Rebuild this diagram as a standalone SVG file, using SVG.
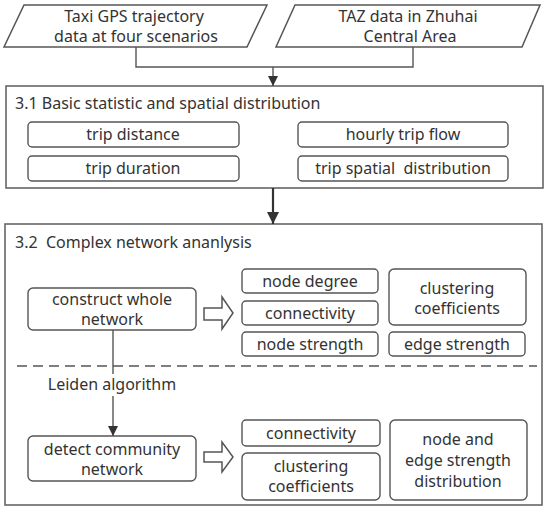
<svg xmlns="http://www.w3.org/2000/svg" width="550" height="510" viewBox="0 0 550 510">
<style>
.shape{fill:#fff;stroke:#555;stroke-width:1.5}
.box{fill:#fff;stroke:#555;stroke-width:1.4}
.frame{fill:none;stroke:#666;stroke-width:1.6}
.t{font-family:"Noto Sans","Open Sans","DejaVu Sans",sans-serif;font-size:16px;fill:#333;text-anchor:middle}
.h{font-family:"Noto Sans","Open Sans","DejaVu Sans",sans-serif;font-size:16px;fill:#333}
.line{fill:none;stroke:#555;stroke-width:1.4}
</style>
<defs>
<marker id="ah" markerWidth="10" markerHeight="14" refX="10" refY="5" orient="auto" markerUnits="userSpaceOnUse" viewBox="0 0 10 10">
<path d="M0,0 L10,5 L0,10 Z" fill="#333"/>
</marker>
<marker id="ah2" markerWidth="14" markerHeight="12" refX="10" refY="5" orient="auto" markerUnits="userSpaceOnUse" viewBox="0 0 10 10">
<path d="M0,0 L10,5 L0,10 Z" fill="#333"/>
</marker>
</defs>
<rect width="550" height="510" fill="#fff"/>

<g id="input-taxi">
<polygon class="shape" points="24,5 267,5 247,47 4,47"/>
<text class="t" x="134" y="22">Taxi GPS trajectory</text>
<text class="t" x="136" y="42">data at four scenarios</text>
</g>
<g id="input-taz">
<polygon class="shape" points="295,5 540,5 522,47 276,47"/>
<text class="t" x="408" y="22">TAZ data in Zhuhai</text>
<text class="t" x="410" y="42">Central Area</text>
</g>

<g id="section-31">
<rect class="frame" x="6" y="86" width="537" height="102"/>
<text class="h" x="15" y="109">3.1 Basic statistic and spatial distribution</text>
</g>
<g id="trip-distance"><rect class="box" x="28" y="122" width="211" height="25" rx="4"/><text class="t" x="133" y="140">trip distance</text></g>
<g id="trip-duration"><rect class="box" x="28" y="156" width="211" height="25" rx="4"/><text class="t" x="133" y="174">trip duration</text></g>
<g id="hourly-trip-flow"><rect class="box" x="298" y="122" width="210" height="25" rx="4"/><text class="t" x="403" y="140">hourly trip flow</text></g>
<g id="trip-spatial"><rect class="box" x="298" y="156" width="210" height="25" rx="4"/><text class="t" x="403" y="174" xml:space="preserve">trip spatial  distribution</text></g>

<g id="section-32">
<rect class="frame" x="5" y="224" width="537" height="281"/>
<text class="h" x="15" y="248" xml:space="preserve">3.2  Complex network ananlysis</text>
<line x1="17" y1="366" x2="537" y2="366" stroke="#555" stroke-width="1.4" stroke-dasharray="10,6"/>
</g>

<g id="construct-whole"><rect class="box" x="28" y="288" width="168" height="42" rx="5"/><text class="t" x="112" y="305">construct whole</text><text class="t" x="112" y="325">network</text></g>
<g id="node-degree"><rect class="box" x="242" y="269" width="136" height="24" rx="4"/><text class="t" x="310" y="287">node degree</text></g>
<g id="connectivity-1"><rect class="box" x="242" y="301" width="136" height="24" rx="4"/><text class="t" x="310" y="319">connectivity</text></g>
<g id="node-strength"><rect class="box" x="242" y="332" width="136" height="24" rx="4"/><text class="t" x="310" y="350">node strength</text></g>
<g id="clustering-1"><rect class="box" x="389" y="269" width="137" height="56" rx="5"/><text class="t" x="457" y="294">clustering</text><text class="t" x="457" y="314">coefficients</text></g>
<g id="edge-strength"><rect class="box" x="389" y="332" width="136" height="24" rx="4"/><text class="t" x="457" y="350">edge strength</text></g>

<g id="detect-community"><rect class="box" x="28" y="436" width="168" height="45" rx="5"/><text class="t" x="112" y="455">detect community</text><text class="t" x="112" y="475">network</text></g>
<g id="connectivity-2"><rect class="box" x="242" y="420" width="138" height="26" rx="4"/><text class="t" x="311" y="439">connectivity</text></g>
<g id="clustering-2"><rect class="box" x="242" y="453" width="138" height="47" rx="5"/><text class="t" x="311" y="472">clustering</text><text class="t" x="311" y="492">coefficients</text></g>
<g id="node-edge-dist"><rect class="box" x="390" y="420" width="137" height="80" rx="5"/><text class="t" x="458" y="445">node and</text><text class="t" x="458" y="466">edge strength</text><text class="t" x="458" y="487">distribution</text></g>

<g id="connectors">
<polyline class="line" points="136,47 136,67 413,67 413,47"/>
<line class="line" x1="273" y1="67" x2="273" y2="86" marker-end="url(#ah)"/>
<line x1="273" y1="188" x2="273" y2="224" stroke="#333" stroke-width="2.2" marker-end="url(#ah2)"/>
<path class="shape" d="M204,308 L222,308 L222,297 L233,313 L222,329 L222,320 L204,320 Z" stroke-width="1.3"/>
<path class="shape" d="M204,452 L222,452 L222,442 L233,457 L222,472 L222,462 L204,462 Z" stroke-width="1.3"/>
<line class="line" x1="113" y1="330" x2="113" y2="374"/>
<text class="t" x="112" y="390">Leiden algorithm</text>
<line class="line" x1="113" y1="396" x2="113" y2="436" marker-end="url(#ah)"/>
</g>
</svg>
